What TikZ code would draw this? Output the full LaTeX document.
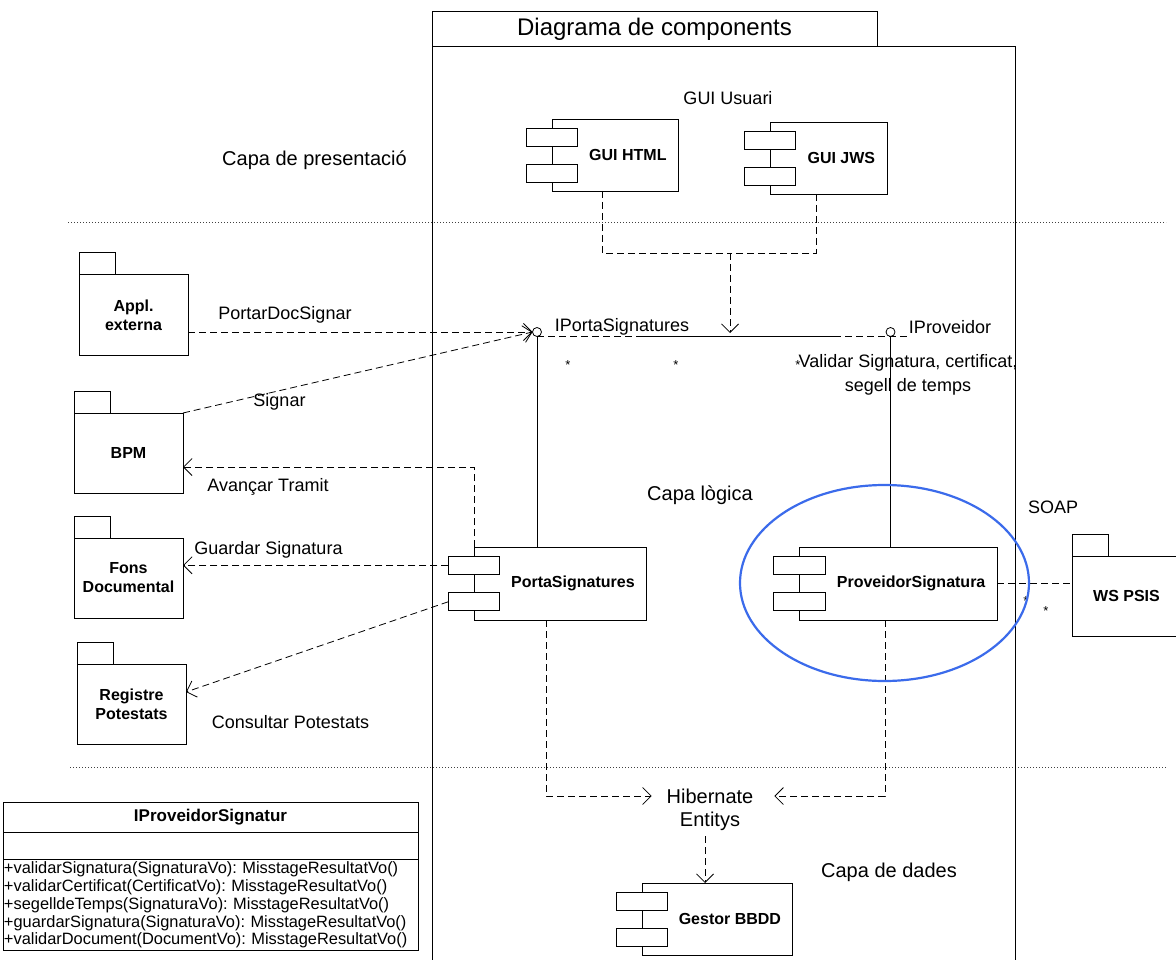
\documentclass[tikz,border=0pt]{standalone}
\usepackage{fontspec}
\setmainfont{Liberation Sans}
\usetikzlibrary{arrows.meta,calc,shapes.geometric}
\frenchspacing

\definecolor{focusblue}{RGB}{59,107,235}

\tikzset{
  every node/.style={inner sep=0pt, outer sep=0pt},
  lbl/.style={font=\fontsize{18}{21.6}\selectfont},
  layerlbl/.style={font=\fontsize{20}{24}\selectfont},
  complbl/.style={font=\fontsize{16}{19}\selectfont\bfseries},
  compbody/.style={draw, line width=0.8pt, fill=white, rectangle},
  compport/.style={draw, line width=0.8pt, fill=white, rectangle,
                   minimum width=51.5pt, minimum height=18pt},
  pkgbody/.style={draw, line width=1pt, rectangle, minimum width=109pt,
                  minimum height=80pt, align=center,
                  font=\fontsize{16}{19}\selectfont\bfseries},
  dep/.style={draw, line width=0.8pt, dash pattern=on 7pt off 4pt},
  openarrow/.style={-{Straight Barb[length=8.5pt,width=17pt]}},
  solidlink/.style={draw, line width=0.8pt},
  layersep/.style={draw, line width=0.8pt, dash pattern=on 0.9pt off 2.1pt, black!75},
  mult/.style={font=\fontsize{13}{13}\selectfont},
}

% UML component: name, x, y (top-left), width, height, label
\newcommand\umlcomponent[6]{%
  \node[compbody, minimum width=#4pt, minimum height=#5pt, anchor=north west] (#1) at (#2,#3) {};
  \node[compport] (#1-p1) at ($(#1.north west)!0.25!(#1.south west)$) {};
  \node[compport] (#1-p2) at ($(#1.north west)!0.75!(#1.south west)$) {};
  \node[complbl] (#1-t) at ($(#1-p1.east |- #1.center)!0.5!(#1.east)$) {#6};
}

% UML package: name, x, y (top-left of body), label
\newcommand\umlpackage[4]{%
  \node[pkgbody, anchor=north west] (#1) at (#2,#3) {#4};
  \draw[line width=1pt] (#1.north west) rectangle ++(36.5,-22);
}

\begin{document}
\begin{tikzpicture}[x=1pt, y=-1pt]
\useasboundingbox (0,0) rectangle (1176,960);
\clip (0,0) rectangle (1176,960);
\fill[white] (0,0) rectangle (1176,960);

% layer separators
\draw[layersep] (68,222) -- (1166,222);
\draw[layersep] (70,767) -- (1166,767);

% component diagram frame
\node[draw, line width=1pt, minimum width=445pt, minimum height=35pt, anchor=north west,
      font=\fontsize{24}{28}\selectfont] (frametab) at (432,12) {Diagrama de components};
\draw[line width=1pt] (432,965) -- (frametab.south west) -- (1015,47) -- (1015,965);

% layer names
\node[layerlbl] (lpres) at (314.5,160) {Capa de presentació};
\node[layerlbl] (llog) at (700,495) {Capa lògica};
\node[layerlbl] (ldades) at (889,872) {Capa de dades};

% presentation layer
\node[lbl] (guiusr) at (728,98) {GUI Usuari};
\umlcomponent{guihtml}{552}{119}{126}{72}{GUI HTML}
\umlcomponent{guijws}{770}{122}{117}{72}{GUI JWS}

% interfaces
\node[circle, draw, line width=0.8pt, minimum size=9pt] (ips) at (537,332) {};
\node[circle, draw, line width=0.8pt, minimum size=9pt] (ipv) at (890.5,332) {};
\node[lbl] (ipslbl) at (622,327) {IPortaSignatures};
\node[lbl] (ipvlbl) at (950,327) {IProveidor};
\node[lbl, align=center, font=\fontsize{18}{24}\selectfont] (valid) at (908,375)
  {Validar Signatura, certificat,\\segell de temps};

% logic layer components
\umlcomponent{porta}{474}{547}{172}{73}{PortaSignatures}
\umlcomponent{prov}{799.5}{547}{197.5}{73}{ProveidorSignatura}

% external packages
\umlpackage{appl}{79}{275}{Appl.\\externa}
\umlpackage{bpm}{74}{413}{BPM}
\umlpackage{fons}{74}{538}{Fons\\Documental}
\umlpackage{reg}{77}{664}{Registre\\Potestats}
\umlpackage{ws}{1072}{556}{WS PSIS}

% data layer
\node[layerlbl] (hib) at (710,796) {Hibernate};
\node[layerlbl] (hibent) at (710,821) {Entitys};
\umlcomponent{gestor}{642}{883}{150}{72}{Gestor BBDD}

% connector labels
\node[lbl] (lportar) at (285,315) {PortarDocSignar};
\node[lbl] (lsignar) at (279.5,402) {Signar};
\node[lbl] (lavancar) at (268,487) {Avançar Tramit};
\node[lbl] (lguardar) at (268.5,550) {Guardar Signatura};
\node[lbl] (lconsultar) at (290.5,722) {Consultar Potestats};
\node[lbl] (lsoap) at (1053,507) {SOAP};

% multiplicities
\node[mult] (m1) at (568,365) {*};
\node[mult] (m2) at (676,365) {*};
\node[mult] (m3) at (798,365) {*};
\node[mult] (m4) at (1026,601) {*};
\node[mult] (m5) at (1046,611) {*};

% GUI dependencies on IPortaSignatures
\coordinate (guijoin) at (730,253);
\coordinate (guitip) at (730,333);
\draw[dep] ($(guihtml.south west)+(50,0)$) |- (guijoin);
\draw[dep] ($(guijws.south west)+(46,0)$) |- (guijoin);
\draw[dep, openarrow] (guijoin) -- (guitip);

% interface realisations and link
\draw[solidlink] (ips.south) -- (ips.south |- porta.north);
\draw[solidlink] (ipv.south) -- (ipv.south |- prov.north);
\coordinate (linka) at (642,0);
\coordinate (linkb) at (837,0);
\draw[dep] (ips.south) -- (ips.south -| ipvlbl.west);
\draw[solidlink] (ips.south -| linka) -- (ips.south -| linkb);

% external clients
\draw[dep, openarrow] (appl.east |- ips.west) -- (ips.west);
\draw[dep, openarrow] (bpm.north east) -- (ips.west);

% calls from PortaSignatures
\coordinate (bpmin) at ($(bpm.north east)!0.675!(bpm.south east)$);
\draw[dep, openarrow] (porta.north west) |- (bpmin);
\draw[dep, openarrow] (porta-p1.west) -- (porta-p1.west -| fons.east);
\coordinate (regin) at ($(reg.north east)!0.35!(reg.south east)$);
\draw[dep, openarrow] (porta-p2.west) -- (regin);

% SOAP service
\draw[dep] (prov.east) -- (prov.east -| ws.west);

% persistence
\draw[dep, openarrow] ($(porta.south west)+(72,0)$) |- ($(hib.west)+(-15,0)$);
\draw[dep, openarrow] ($(prov.south west)+(85.5,0)$) |- ($(hib.east)+(21,0)$);
\coordinate (gestorin) at ($(gestor.north west)+(63,0)$);
\draw[dep, openarrow] ($(hibent.south -| gestorin)+(0,6)$) -- (gestorin);

% interface class
\node[draw, line width=1pt, minimum width=415pt, minimum height=30pt, anchor=north west,
      font=\fontsize{17}{20}\selectfont\bfseries] (cls) at (3,802) {IProveidorSignatur};
\node[draw, line width=1pt, minimum width=415pt, minimum height=27pt, anchor=north] (clsattr) at (cls.south) {};
\node[draw, line width=1pt, text width=413pt, inner xsep=1pt, inner ysep=2.5pt, anchor=north,
      align=left, font=\fontsize{16.4}{17.9}\selectfont] (clsops) at (clsattr.south)
  {+validarSignatura(SignaturaVo): MisstageResultatVo()\\
   +validarCertificat(CertificatVo): MisstageResultatVo()\\
   +segelldeTemps(SignaturaVo): MisstageResultatVo()\\
   +guardarSignatura(SignaturaVo): MisstageResultatVo()\\
   +validarDocument(DocumentVo): MisstageResultatVo()};

% highlighted provider
\node[ellipse, draw=focusblue, line width=2.2pt, minimum width=289pt, minimum height=196pt] (focus) at (884.5,583) {};
\end{tikzpicture}
\end{document}
